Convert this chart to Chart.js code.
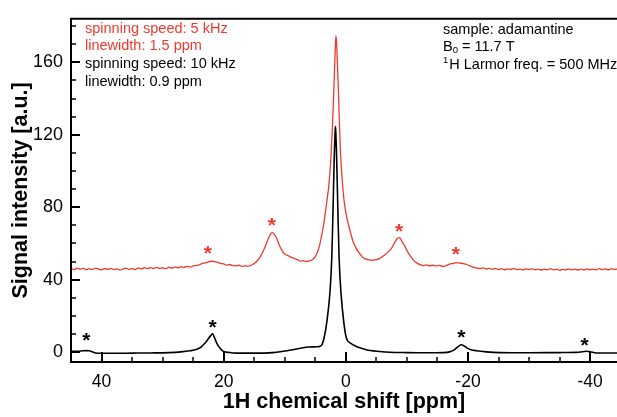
<!DOCTYPE html>
<html>
<head>
<meta charset="utf-8">
<script src="https://cdn.jsdelivr.net/npm/chart.js@4.4.0/dist/chart.umd.min.js"></script>
<style>
  html, body { margin: 0; padding: 0; background: #fff; }
</style>
</head>
<body>
<canvas id="myChart" width="617" height="417"></canvas>
<script>
// Espectro negro: 10 kHz, linewidth 0.9 ppm
const negroPpm = [45, 44, 43, 42.5, 42, 41.5, 41, 40, 38, 35, 32, 29, 27, 25.5, 24.5, 23.8, 23.2, 22.6, 22.1, 21.8, 21.5, 21.1, 20.6, 20.1, 19, 17.8, 15, 12, 10.3, 9, 7.5, 6, 4.7, 4.2, 3.9, 3.55, 3.1, 2.6, 2.3, 2.1, 1.95, 1.85, 1.75, 1.7, 1.65, 1.55, 1.45, 1.3, 1.1, 0.8, 0.35, 0, -0.3, -0.7, -1.5, -2.3, -3.2, -4, -5.5, -7.2, -10, -13, -16, -17, -17.6, -18.2, -18.9, -19.4, -19.8, -20.5, -21.4, -23, -25.2, -30, -35, -37.8, -38.8, -39.4, -40, -41, -43, -44.5];
const negroInt = [0.5, 0.5, 0.8, 0.9, 0.8, 0.2, -0.4, -0.6, -0.6, -0.5, -0.4, -0.2, 0.2, 0.8, 1.5, 2.6, 4.5, 7, 9.3, 10.2, 8, 4.7, 2.2, 0.6, -0.2, -0.5, -0.5, -0.2, 0.5, 1.2, 2.2, 2.9, 3, 3.3, 4.2, 8, 17, 33, 52, 78, 100, 113, 122, 124.5, 122, 113, 100, 78, 52, 33, 17, 9, 6.3, 5.2, 3.6, 2.4, 1.5, 0.9, 0.4, 0, -0.2, -0.3, -0.2, 0.2, 1, 2.6, 4.1, 3.4, 2.4, 1.4, 0.8, 0.2, -0.2, -0.3, -0.2, -0.1, 0.3, 0.5, 0.3, -0.4, -0.4, -0.4];

// Espectro rojo: 5 kHz, linewidth 1.5 ppm
const rojoPpm = [45, 44.5, 44, 43.5, 43, 42.5, 42, 41.5, 41, 40.5, 40, 39.5, 39, 38.5, 38, 37.5, 37, 36.5, 36, 35.5, 35, 34.5, 34, 33.5, 33, 32.5, 32, 31.5, 31, 30.5, 30, 29.5, 29, 28.5, 28, 27.5, 27, 26.5, 26, 25.5, 25, 24.5, 24, 23.5, 23, 22.5, 22, 21.5, 21, 20.5, 20, 19.5, 19, 18.5, 18, 17.5, 17, 16.5, 16, 15.5, 15, 14.5, 14, 13.5, 13, 12.6, 12.2, 12, 11.7, 11.3, 11, 10.6, 10.2, 9.8, 9.4, 9, 8.6, 8.2, 7.8, 7.4, 7, 6.5, 6, 5.5, 5, 4.7, 4.3, 3.9, 3.6, 3.4, 3.1, 2.85, 2.6, 2.4, 2.2, 2.05, 1.9, 1.8, 1.7, 1.62, 1.52, 1.42, 1.3, 1.15, 1.05, 0.9, 0.7, 0.5, 0.3, 0, -0.4, -0.8, -1.2, -1.6, -2, -2.5, -2.9, -3.5, -4.2, -4.8, -5.6, -6.3, -7, -7.5, -8, -8.5, -8.8, -9.2, -9.7, -10.2, -10.7, -11.1, -11.6, -12.1, -12.7, -13.2, -13.7, -14.3, -14.8, -15.3, -15.8, -16.2, -16.7, -17.1, -17.6, -18, -18.4, -18.9, -19.4, -19.8, -20.3, -20.8, -21.4, -22, -22.5, -23, -23.5, -24, -24.5, -25, -25.5, -26, -26.5, -27, -27.5, -28, -28.5, -29, -29.5, -30, -30.5, -31, -31.5, -32, -32.5, -33, -33.5, -34, -34.5, -35, -35.5, -36, -36.5, -37, -37.5, -38, -38.5, -39, -39.5, -40, -40.5, -41, -41.5, -42, -42.5, -43, -43.5, -44, -44.5];
const rojoInt = [46.2, 45.6, 46.4, 45.8, 46.3, 45.5, 46.1, 45.7, 46.4, 45.9, 45.4, 46.2, 45.7, 46.3, 45.6, 46, 45.3, 45.9, 46.4, 45.7, 46.1, 45.6, 46.5, 46, 46.6, 46.1, 46.7, 46.2, 46.8, 46.3, 46.6, 46.1, 46.9, 46.4, 47, 46.6, 47.2, 46.8, 47.4, 47, 47.6, 47.9, 48.2, 49, 49.3, 49.9, 50.2, 50, 49.6, 49, 48.7, 48.1, 48.4, 47.8, 47.6, 48, 47.4, 47.6, 47.5, 48, 49, 50.5, 52.8, 56, 60, 63.5, 65.8, 66, 65, 62.7, 60, 57, 54.8, 53.8, 53.2, 52.5, 52, 51.5, 50.8, 50.3, 50.5, 50.1, 50.4, 51, 52.8, 54.7, 59, 65.4, 71, 76, 83.5, 90, 99, 110, 124, 137, 151, 161, 170, 174.5, 171, 163, 152, 138, 126, 112, 100, 91, 84, 77, 70.8, 65.5, 61, 58, 55.6, 53.5, 52, 51.3, 50.7, 50.9, 51.8, 53.5, 55.5, 57.5, 60.5, 63, 63.2, 61, 58.3, 55, 52.5, 50.7, 49.3, 48.4, 47.8, 48.2, 47.7, 48, 47.6, 47.9, 47.4, 47.5, 48.2, 48.8, 48.9, 49.4, 49.3, 49.1, 48.8, 48.4, 47.6, 47, 46.5, 46.2, 46.5, 45.9, 46.3, 45.8, 46.2, 45.6, 46.1, 45.5, 46, 45.7, 46.2, 45.6, 45.9, 45.4, 46, 45.6, 46.1, 45.5, 45.8, 45.3, 45.9, 45.5, 46.1, 45.4, 45.8, 45.2, 45.7, 45.4, 46, 45.5, 45.9, 45.3, 45.8, 45.4, 46, 45.5, 45.9, 45.4, 46.1, 45.6, 46, 45.5, 46.1, 45.7, 46];

// Bandas laterales marcadas con asterisco
const asteriscoRojoPpm = [22.6, 12.1, -8.7, -18.0];
const asteriscoRojoInt = [57.4, 73.1, 69.9, 57.0];
const asteriscoNegroPpm = [42.5, 21.8, -18.9, -39.1];
const asteriscoNegroInt = [9.5, 16.7, 11.3, 6.8];

// Ticks de los ejes
const xTicks = [40, 35, 30, 25, 20, 15, 10, 5, 0, -5, -10, -15, -20, -25, -30, -35, -40];
const xEtiquetas = [40, 20, 0, -20, -40];
const yTicks = [0, 10, 20, 30, 40, 50, 60, 70, 80, 90, 100, 110, 120, 130, 140, 150, 160, 170, 180];
const yEtiquetas = [0, 40, 80, 120, 160];

const ROJO = '#ee3a2c';
const NEGRO = '#000000';
const FUENTE = "'Liberation Sans', Arial, Helvetica, sans-serif";

const toPoints = (xs, ys) => xs.map((v, i) => ({ x: v, y: ys[i] }));

// Dibuja marco, ticks hacia adentro, asteriscos y textos
const decoraciones = {
    id: 'decoraciones',
    afterDatasetsDraw(chart) {
        const { ctx, chartArea: a, scales: { x, y } } = chart;
        ctx.save();
        ctx.strokeStyle = NEGRO;

        xTicks.forEach(v => {
            const px = Math.round(x.getPixelForValue(v));
            const mayor = xEtiquetas.includes(v);
            ctx.lineWidth = mayor ? 2 : 1.5;
            ctx.beginPath();
            ctx.moveTo(px, a.bottom);
            ctx.lineTo(px, a.bottom - (mayor ? 10 : 5));
            ctx.stroke();
        });
        yTicks.forEach(v => {
            const py = Math.round(y.getPixelForValue(v));
            const mayor = yEtiquetas.includes(v);
            ctx.lineWidth = mayor ? 2 : 1.5;
            ctx.beginPath();
            ctx.moveTo(a.left, py);
            ctx.lineTo(a.left + (mayor ? 9 : 5), py);
            ctx.stroke();
        });

        // marco
        ctx.lineWidth = 2;
        ctx.beginPath();
        ctx.moveTo(a.right + 2, a.top);
        ctx.lineTo(a.left, a.top);
        ctx.lineTo(a.left, a.bottom);
        ctx.lineTo(a.right + 2, a.bottom);
        ctx.stroke();

        // asteriscos
        const tam = 21;
        ctx.font = 'bold ' + tam + 'px ' + FUENTE;
        ctx.textAlign = 'center';
        ctx.textBaseline = 'alphabetic';
        const estrella = (xs, ys, color) => {
            ctx.fillStyle = color;
            xs.forEach((v, i) => {
                ctx.fillText('*', x.getPixelForValue(v), y.getPixelForValue(ys[i]) + tam * 0.58);
            });
        };
        estrella(asteriscoRojoPpm, asteriscoRojoInt, ROJO);
        estrella(asteriscoNegroPpm, asteriscoNegroInt, NEGRO);

        // textos
        const f = '14.5px ' + FUENTE;
        const fChica = '9.5px ' + FUENTE;
        ctx.textAlign = 'left';
        ctx.font = f;
        ctx.fillStyle = ROJO;
        ctx.fillText('spinning speed: 5 kHz', 85, 32.5);
        ctx.fillText('linewidth: 1.5 ppm', 85, 49.5);
        ctx.fillStyle = NEGRO;
        ctx.fillText('spinning speed: 10 kHz', 85, 68);
        ctx.fillText('linewidth: 0.9 ppm', 85, 85.5);

        const xd = 443;
        ctx.fillText('sample: adamantine', xd, 33.5);
        ctx.fillText('B', xd, 50.5);
        let w = ctx.measureText('B').width;
        ctx.font = fChica;
        ctx.fillText('0', xd + w, 52.5);
        w += ctx.measureText('0').width;
        ctx.font = f;
        ctx.fillText(' = 11.7 T', xd + w, 50.5);
        ctx.font = fChica;
        ctx.fillText('1', xd, 63);
        w = ctx.measureText('1').width + 1;
        ctx.font = f;
        ctx.fillText('H Larmor freq. = 500 MHz', xd + w, 69);

        ctx.restore();
    }
};

const ctx = document.getElementById('myChart').getContext('2d');
const myChart = new Chart(ctx, {
    type: 'line',
    data: {
        datasets: [
            {
                label: '5 kHz',
                data: toPoints(rojoPpm, rojoInt),
                borderColor: ROJO,
                borderWidth: 1.3,
                pointRadius: 0,
                cubicInterpolationMode: 'monotone'
            },
            {
                label: '10 kHz',
                data: toPoints(negroPpm, negroInt),
                borderColor: NEGRO,
                borderWidth: 1.6,
                pointRadius: 0,
                cubicInterpolationMode: 'monotone'
            }
        ]
    },
    options: {
        responsive: false,
        animation: false,
        devicePixelRatio: 1,
        layout: { padding: { top: 10, right: 0, left: 0, bottom: 0 } },
        plugins: {
            legend: { display: false },
            tooltip: { enabled: false }
        },
        scales: {
            x: {
                type: 'linear',
                reverse: true,
                min: -44.4,
                max: 45,
                afterFit: s => { s.height = 55; },
                afterBuildTicks: s => { s.ticks = xTicks.map(v => ({ value: v })); },
                grid: { display: false, drawTicks: false },
                border: { display: false },
                ticks: {
                    autoSkip: false,
                    maxRotation: 0,
                    padding: 10,
                    color: NEGRO,
                    font: { family: FUENTE, size: 17.5 },
                    callback: v => xEtiquetas.includes(v) ? String(v) : ''
                },
                title: {
                    display: true,
                    text: '1H chemical shift [ppm]',
                    color: NEGRO,
                    font: { family: FUENTE, size: 21.5, weight: 'bold' },
                    padding: { top: 0, bottom: 2 }
                }
            },
            y: {
                min: -5.4,
                max: 184,
                afterFit: s => { s.width = 71; },
                afterBuildTicks: s => { s.ticks = yTicks.map(v => ({ value: v })); },
                grid: { display: false, drawTicks: false },
                border: { display: false },
                ticks: {
                    autoSkip: false,
                    padding: 8,
                    color: NEGRO,
                    font: { family: FUENTE, size: 18 },
                    callback: v => yEtiquetas.includes(v) ? String(v) : ''
                },
                title: {
                    display: true,
                    text: 'Signal intensity [a.u.]',
                    color: NEGRO,
                    font: { family: FUENTE, size: 21.5, weight: 'bold' },
                    padding: { top: 8, bottom: 0 }
                }
            }
        }
    },
    plugins: [decoraciones]
});
</script>
</body>
</html>
